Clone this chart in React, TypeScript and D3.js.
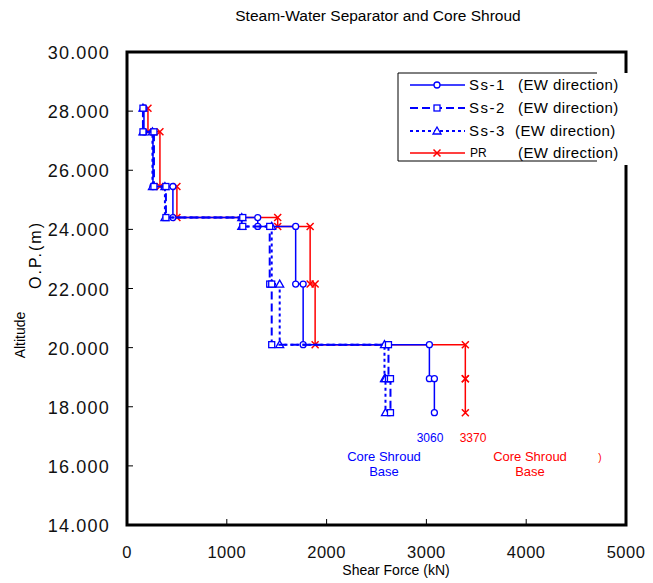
import * as d3 from "d3";

// altitude levels (m, O.P.) where the shear force steps
const altitudes = [28.1, 27.3, 25.45, 24.4, 24.1, 22.15, 20.1, 18.95, 17.8];

// shear force (kN) for each segment between two consecutive altitudes
const ss1 = [170, 260, 460, 1310, 1690, 1765, 3030, 3080];
const ss2 = [160, 270, 390, 1160, 1430, 1450, 2620, 2640];
const ss3 = [160, 255, 380, 1150, 1450, 1530, 2580, 2590];
const pr = [210, 330, 500, 1510, 1835, 1885, 3390, 3390];

const seriesNames = ["Ss-1", "Ss-2", "Ss-3", "PR"];
const xTicks = [0, 1000, 2000, 3000, 4000, 5000];
const yTicks = [14, 16, 18, 20, 22, 24, 26, 28, 30];

const W = 653;
const H = 583;
const BLUE = "#0000FF";
const RED = "#FF0000";

const x = d3.scaleLinear().domain([0, 5000]).range([127, 626]);
const y = d3.scaleLinear().domain([14, 30]).range([525, 52]);

type Pt = [number, number];

function steps(values: number[]): Pt[] {
  const pts: Pt[] = [];
  values.forEach((v, i) => {
    pts.push([v, altitudes[i]]);
    pts.push([v, altitudes[i + 1]]);
  });
  return pts;
}

const line = d3
  .line<Pt>()
  .x((d) => x(d[0]))
  .y((d) => y(d[1]));

type Style = {
  color: string;
  width: number;
  dash?: string;
  marker: "circle" | "square" | "triangle" | "cross";
};

const styles: Record<string, Style> = {
  "Ss-1": { color: BLUE, width: 1.5, marker: "circle" },
  "Ss-2": { color: BLUE, width: 2, dash: "8,4", marker: "square" },
  "Ss-3": { color: BLUE, width: 2, dash: "3,3", marker: "triangle" },
  PR: { color: RED, width: 1.5, marker: "cross" },
};

function Marker({ cx, cy, s }: { cx: number; cy: number; s: Style }) {
  if (s.marker === "circle")
    return <circle cx={cx} cy={cy} r={3} fill="#fff" stroke={s.color} strokeWidth={1.3} />;
  if (s.marker === "square")
    return (
      <rect x={cx - 3} y={cy - 3} width={6} height={6} fill="#fff" stroke={s.color} strokeWidth={1.3} />
    );
  if (s.marker === "triangle")
    return (
      <path
        d={`M${cx},${cy - 4}L${cx + 4},${cy + 3}L${cx - 4},${cy + 3}Z`}
        fill="#fff"
        stroke={s.color}
        strokeWidth={1.3}
      />
    );
  return (
    <path
      d={`M${cx - 3.5},${cy - 3.5}L${cx + 3.5},${cy + 3.5}M${cx - 3.5},${cy + 3.5}L${cx + 3.5},${cy - 3.5}`}
      stroke={s.color}
      strokeWidth={1.5}
    />
  );
}

function Series({ name, values }: { name: string; values: number[] }) {
  const s = styles[name];
  const pts = steps(values);
  return (
    <g>
      <path
        d={line(pts) ?? ""}
        fill="none"
        stroke={s.color}
        strokeWidth={s.width}
        strokeDasharray={s.dash}
      />
      {pts.map((p, i) => (
        <Marker key={i} cx={x(p[0])} cy={y(p[1])} s={s} />
      ))}
    </g>
  );
}

export default function App() {
  const font = "Liberation Sans, Arial, sans-serif";
  const legendRows = [85, 108, 131, 153];
  return (
    <svg
      width={W}
      height={H}
      style={{ position: "absolute", left: 0, top: 0, background: "#fff" }}
      fontFamily={font}
    >
      <rect width={W} height={H} fill="#fff" />

      {/* title */}
      <text x={378} y={21} textAnchor="middle" fontSize={15.5} fill="#000">
        Steam-Water Separator and Core Shroud
      </text>

      {/* series: red first so blue dashes show over it */}
      <Series name="PR" values={pr} />
      <Series name="Ss-1" values={ss1} />
      <Series name="Ss-3" values={ss3} />
      <Series name="Ss-2" values={ss2} />

      {/* frame */}
      <rect
        x={x(0)}
        y={y(30)}
        width={x(5000) - x(0)}
        height={y(14) - y(30)}
        fill="none"
        stroke="#000"
        strokeWidth={3}
      />

      {/* ticks */}
      {yTicks.slice(1, -1).map((t) => (
        <line key={t} x1={x(0)} x2={x(0) + 6} y1={y(t)} y2={y(t)} stroke="#000" strokeWidth={1} />
      ))}
      {xTicks.slice(1, -1).map((t) => (
        <line key={t} x1={x(t)} x2={x(t)} y1={y(14)} y2={y(14) - 6} stroke="#000" strokeWidth={1} />
      ))}

      {/* y tick labels */}
      {yTicks.map((t) => (
        <text
          key={t}
          x={110}
          y={y(t) + 7}
          textAnchor="end"
          fontSize={18}
          letterSpacing={1.2}
          fill="#111"
        >
          {t.toFixed(3)}
        </text>
      ))}

      {/* x tick labels */}
      {xTicks.map((t) => (
        <text key={t} x={x(t)} y={558} textAnchor="middle" fontSize={16.5} letterSpacing={0.5} fill="#111">
          {t}
        </text>
      ))}

      <text x={396} y={575} textAnchor="middle" fontSize={14} fill="#000">
        Shear Force (kN)
      </text>

      {/* y axis labels */}
      <text transform="translate(25,335) rotate(-90)" textAnchor="middle" fontSize={14} fill="#000">
        Altitude
      </text>
      <text
        transform="translate(41,255) rotate(-90)"
        textAnchor="middle"
        fontSize={16}
        letterSpacing={2}
        fill="#000"
      >
        O.P.(m)
      </text>

      {/* annotations */}
      <text x={430} y={442} textAnchor="middle" fontSize={12} fill={BLUE}>
        3060
      </text>
      <text x={473} y={442} textAnchor="middle" fontSize={12} fill={RED}>
        3370
      </text>
      <text x={384} y={461} textAnchor="middle" fontSize={13} fill={BLUE}>
        Core Shroud
      </text>
      <text x={384} y={476} textAnchor="middle" fontSize={13} fill={BLUE}>
        Base
      </text>
      <text x={530} y={461} textAnchor="middle" fontSize={13} fill={RED}>
        Core Shroud
      </text>
      <text x={530} y={476} textAnchor="middle" fontSize={13} fill={RED}>
        Base
      </text>
      <text x={600} y={461} textAnchor="middle" fontSize={10} fill={RED}>
        )
      </text>

      {/* legend */}
      <rect x={398} y={73} width={236} height={92} fill="#fff" />
      <path d="M597,73H398V161H597" fill="none" stroke="#000" strokeWidth={1} />
      {seriesNames.map((n, i) => {
        const s = styles[n];
        const ly = legendRows[i];
        return (
          <g key={n}>
            <line
              x1={410}
              x2={465}
              y1={ly}
              y2={ly}
              stroke={s.color}
              strokeWidth={s.width}
              strokeDasharray={s.dash}
            />
            <Marker cx={437} cy={ly} s={s} />
            {n === "PR" ? (
              <text x={470} y={ly + 4} fontSize={12} fill="#000">
                {n}
              </text>
            ) : (
              <text x={469} y={ly + 5} fontSize={15} letterSpacing={1.5} fill="#000">
                {n}
              </text>
            )}
            <text x={i === 2 ? 515 : 518} y={ly + 5} fontSize={15} letterSpacing={0.4} fill="#000">
              (EW direction)
            </text>
          </g>
        );
      })}
    </svg>
  );
}
